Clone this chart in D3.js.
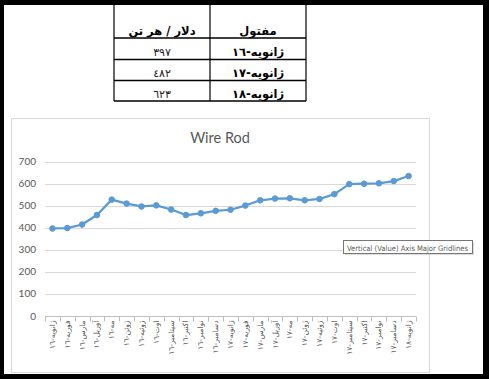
<!DOCTYPE html>
<html><head><meta charset="utf-8">
<script src="https://cdn.jsdelivr.net/npm/d3@7"></script>
<style>
html,body{margin:0;padding:0;background:#000;}
svg{display:block;}
</style></head>
<body>
<svg id="c" width="489" height="379"></svg>
<script>
// ---- data ----
const categories = [
 "ژانویه-١٦","فوریه-١٦","مارس-١٦","آوریل-١٦","مه-١٦","ژوئن-١٦","ژوئیه-١٦","اوت-١٦","سپتامبر-١٦","اکتبر-١٦","نوامبر-١٦","دسامبر-١٦",
 "ژانویه-١٧","فوریه-١٧","مارس-١٧","آوریل-١٧","مه-١٧","ژوئن-١٧","ژوئیه-١٧","اوت-١٧","سپتامبر-١٧","اکتبر-١٧","نوامبر-١٧","دسامبر-١٧",
 "ژانویه-١٨"];
const values = [397,399,415,458,528,510,497,502,483,458,466,477,482,501,525,533,534,525,531,553,598,600,602,612,635];
const yTicks = [0,100,200,300,400,500,600,700];
const tableHeader = ["مفتول","دلار / هر تن"];
const tableLabels = ["ژانویه-١٦","ژانویه-١٧","ژانویه-١٨"];
const tableValues = ["٣٩٧","٤٨٢","٦٢٣"];
const title = "Wire Rod";
const tooltip = "Vertical (Value) Axis Major Gridlines";

const svg = d3.select("#c");
// white page inside black frame
svg.append("rect").attr("x",4).attr("y",5).attr("width",479).attr("height",369).attr("fill","#fff");

// ---- table ----
const tb = svg.append("g");
const colX = [306,210,114];
const rowY = [5,38,59.5,80.5,101];
const arFont = "'DejaVu Sans', 'Noto Sans', sans-serif";
colX.forEach(x=>tb.append("line").attr("x1",x).attr("x2",x).attr("y1",5).attr("y2",101).attr("stroke","#000").attr("stroke-width",1.2));
rowY.slice(1).forEach(y=>tb.append("line").attr("x1",114).attr("x2",306).attr("y1",y).attr("y2",y).attr("stroke","#000").attr("stroke-width",1.6));
const cRight = 258, cLeft = 162;
tb.append("text").attr("x",cRight).attr("y",35).attr("text-anchor","middle").attr("font-family",arFont).attr("font-weight","bold").attr("font-size",11.5).attr("direction","rtl").style("unicode-bidi","embed").text(tableHeader[0]);
tb.append("text").attr("x",cLeft).attr("y",35).attr("text-anchor","middle").attr("font-family",arFont).attr("font-weight","bold").attr("font-size",11.5).attr("direction","rtl").style("unicode-bidi","embed").text(tableHeader[1]);
tableLabels.forEach((t,i)=>{
  const by = rowY[i+2]-3.5;
  tb.append("text").attr("x",cRight).attr("y",by).attr("text-anchor","middle").attr("font-family",arFont).attr("font-weight","bold").attr("font-size",11.5).attr("direction","rtl").style("unicode-bidi","embed").text(t);
  tb.append("text").attr("x",cLeft).attr("y",by).attr("text-anchor","middle").attr("font-family",arFont).attr("font-size",11).attr("fill","#222").text(tableValues[i]);
});

// ---- chart area ----
const font = "Lato, 'Open Sans', sans-serif";
svg.append("rect").attr("x",11.5).attr("y",118.5).attr("width",418).attr("height",254).attr("fill","#fff").attr("stroke","#d9d9d9");
svg.append("text").attr("x",220).attr("y",143).attr("text-anchor","middle").attr("font-family",font).attr("font-size",14.5).attr("fill","#595959").text(title);

const x = d3.scaleBand().domain(categories).range([45,416]).padding(0);
const y = d3.scaleLinear().domain([0,700]).range([316,161.7]);

// gridlines
const grid = svg.append("g");
yTicks.forEach(t=>{
  grid.append("line").attr("x1",45).attr("x2",416).attr("y1",Math.round(y(t))+0.5).attr("y2",Math.round(y(t))+0.5).attr("stroke","#d9d9d9").attr("stroke-width",1);
  grid.append("text").attr("x",36).attr("y",y(t)).attr("dy","0.35em").attr("text-anchor","end").attr("font-family",font).attr("font-size",10).attr("fill","#595959").text(t);
});
// category axis
const ax = svg.append("g").attr("transform","translate(0,"+(Math.round(y(0))+0.5)+")");
ax.append("line").attr("x1",45).attr("x2",416).attr("stroke","#bfbfbf");
const bounds = categories.map(c=>x(c)).concat([x(categories[categories.length-1])+x.bandwidth()]);
bounds.forEach(b=>ax.append("line").attr("x1",Math.round(b)+0.5).attr("x2",Math.round(b)+0.5).attr("y1",0).attr("y2",5).attr("stroke","#bfbfbf"));
categories.forEach(c=>{
  ax.append("text").attr("transform","translate("+(x(c)+x.bandwidth()/2)+",4) rotate(-90)")
    .attr("text-anchor","end").attr("dominant-baseline","central")
    .attr("font-family",arFont).attr("font-size",7.5).attr("fill","#595959").text(c);
});

// line + markers
const cx = c=>x(c)+x.bandwidth()/2;
const data = categories.map((c,i)=>({c,v:values[i]}));
svg.append("path").datum(data).attr("fill","none").attr("stroke","#5b9bd5").attr("stroke-width",2.25).attr("stroke-linejoin","round")
  .attr("d",d3.line().x(d=>cx(d.c)).y(d=>y(d.v)));
svg.selectAll(".pt").data(data).enter().append("circle").attr("cx",d=>cx(d.c)).attr("cy",d=>y(d.v)).attr("r",2.8).attr("fill","#5b9bd5").attr("stroke","#5b9bd5");

// tooltip
svg.append("rect").attr("x",345).attr("y",242).attr("width",129).attr("height",13).attr("fill","#bbb").attr("opacity",0.5);
svg.append("rect").attr("x",343.5).attr("y",240.5).attr("width",129).attr("height",13).attr("fill","#fff").attr("stroke","#767676");
svg.append("text").attr("x",347).attr("y",250.5).attr("font-family","'DejaVu Sans', sans-serif").attr("font-size",7.5).attr("fill","#575757")
  .attr("textLength",121).attr("lengthAdjust","spacingAndGlyphs").text(tooltip);
</script>
</body></html>
